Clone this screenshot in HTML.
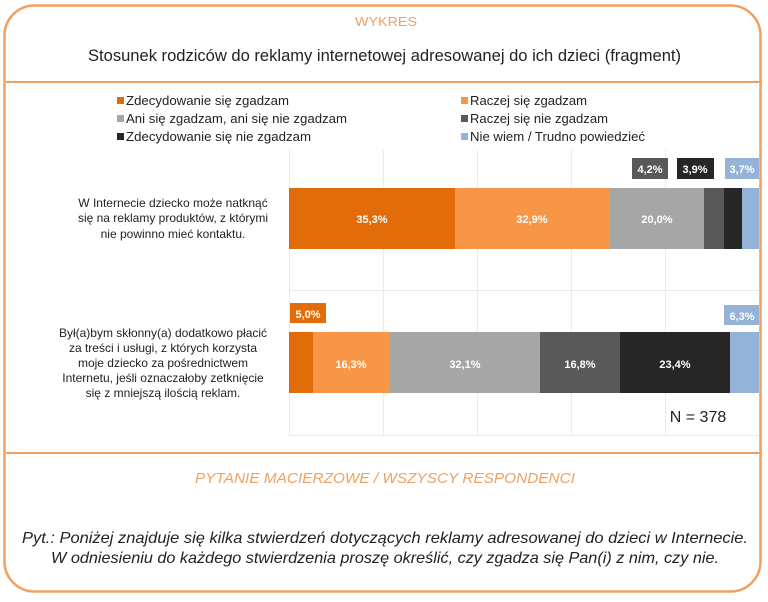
<!DOCTYPE html>
<html><head><meta charset="utf-8"><style>
html,body{margin:0;padding:0;background:#fff;}
svg{display:block;}
text{font-family:"Liberation Sans",sans-serif;}
</style></head><body>
<svg width="768" height="602" viewBox="0 0 768 602" xmlns="http://www.w3.org/2000/svg">
<rect x="4.5" y="5.5" width="756" height="586" rx="30" ry="30" fill="#fff" stroke="#f0a060" stroke-width="2.5"/>
<line x1="6" y1="82" x2="762" y2="82" stroke="#f0a060" stroke-width="2"/>
<line x1="6" y1="453" x2="762" y2="453" stroke="#f0a060" stroke-width="2"/>
<text x="386" y="26" text-anchor="middle" font-size="13" fill="#f0a060" textLength="62" lengthAdjust="spacingAndGlyphs">WYKRES</text>
<text x="88" y="61" font-size="17" fill="#222" textLength="593" lengthAdjust="spacingAndGlyphs">Stosunek rodziców do reklamy internetowej adresowanej do ich dzieci (fragment)</text>

<g font-size="13" fill="#222">
<rect x="117" y="97" width="7" height="7" fill="#e36c0a"/><text x="126" y="105" textLength="163" lengthAdjust="spacingAndGlyphs">Zdecydowanie się zgadzam</text>
<rect x="117" y="115" width="7" height="7" fill="#a6a6a6"/><text x="126" y="123" textLength="221" lengthAdjust="spacingAndGlyphs">Ani się zgadzam, ani się nie zgadzam</text>
<rect x="117" y="133" width="7" height="7" fill="#262626"/><text x="126" y="141" textLength="185" lengthAdjust="spacingAndGlyphs">Zdecydowanie się nie zgadzam</text>
<rect x="461" y="97" width="7" height="7" fill="#f79646"/><text x="470" y="105" textLength="117" lengthAdjust="spacingAndGlyphs">Raczej się zgadzam</text>
<rect x="461" y="115" width="7" height="7" fill="#595959"/><text x="470" y="123" textLength="138" lengthAdjust="spacingAndGlyphs">Raczej się nie zgadzam</text>
<rect x="461" y="133" width="7" height="7" fill="#95b3d7"/><text x="470" y="141" textLength="175" lengthAdjust="spacingAndGlyphs">Nie wiem / Trudno powiedzieć</text>
</g>

<g stroke="#ebebeb" stroke-width="1">
<line x1="289.5" y1="150" x2="289.5" y2="436"/>
<line x1="383.5" y1="150" x2="383.5" y2="436"/>
<line x1="477.5" y1="150" x2="477.5" y2="436"/>
<line x1="571.5" y1="150" x2="571.5" y2="436"/>
<line x1="665.5" y1="150" x2="665.5" y2="436"/>
<line x1="289" y1="290.5" x2="759" y2="290.5"/>
<line x1="289" y1="435.5" x2="759" y2="435.5"/>
</g>

<rect x="289" y="188" width="166" height="61" fill="#e36c0a"/>
<rect x="455" y="188" width="155" height="61" fill="#f79646"/>
<rect x="610" y="188" width="94" height="61" fill="#a6a6a6"/>
<rect x="704" y="188" width="20" height="61" fill="#595959"/>
<rect x="724" y="188" width="18" height="61" fill="#262626"/>
<rect x="742" y="188" width="17" height="61" fill="#95b3d7"/>

<rect x="289" y="332" width="24" height="61" fill="#e36c0a"/>
<rect x="313" y="332" width="76" height="61" fill="#f79646"/>
<rect x="389" y="332" width="151" height="61" fill="#a6a6a6"/>
<rect x="540" y="332" width="80" height="61" fill="#595959"/>
<rect x="620" y="332" width="110" height="61" fill="#262626"/>
<rect x="730" y="332" width="29" height="61" fill="#95b3d7"/>

<rect x="632" y="158" width="36" height="21" fill="#595959"/>
<rect x="677" y="158" width="37" height="21" fill="#262626"/>
<rect x="725" y="158" width="34" height="21" fill="#95b3d7"/>
<rect x="290" y="303" width="36" height="20" fill="#e36c0a"/>
<rect x="724" y="305" width="35" height="20" fill="#95b3d7"/>

<g font-size="11" font-weight="bold" fill="#fff" text-anchor="middle">
<text x="372" y="223">35,3%</text>
<text x="532" y="223">32,9%</text>
<text x="657" y="223">20,0%</text>
<text x="650" y="173">4,2%</text>
<text x="695" y="173">3,9%</text>
<text x="742" y="173">3,7%</text>
<text x="308" y="318">5,0%</text>
<text x="742" y="320">6,3%</text>
<text x="351" y="368">16,3%</text>
<text x="465" y="368">32,1%</text>
<text x="580" y="368">16,8%</text>
<text x="675" y="368">23,4%</text>
</g>

<text x="698" y="422" font-size="16" fill="#222" text-anchor="middle">N = 378</text>

<g font-size="12" fill="#222" text-anchor="middle">
<text x="173" y="207">W Internecie dziecko może natknąć</text>
<text x="173" y="222">się na reklamy produktów, z którymi</text>
<text x="173" y="238">nie powinno mieć kontaktu.</text>
<text x="163" y="337">Był(a)bym skłonny(a) dodatkowo płacić</text>
<text x="163" y="352">za treści i usługi, z których korzysta</text>
<text x="163" y="367">moje dziecko za pośrednictwem</text>
<text x="163" y="382">Internetu, jeśli oznaczałoby zetknięcie</text>
<text x="163" y="397">się z mniejszą ilością reklam.</text>
</g>

<text x="385" y="483" font-size="15" font-style="italic" fill="#f0a060" text-anchor="middle" textLength="380" lengthAdjust="spacingAndGlyphs">PYTANIE MACIERZOWE / WSZYSCY RESPONDENCI</text>
<text x="385" y="543" font-size="16" font-style="italic" fill="#222" text-anchor="middle" textLength="726" lengthAdjust="spacingAndGlyphs">Pyt.: Poniżej znajduje się kilka stwierdzeń dotyczących reklamy adresowanej do dzieci w Internecie.</text>
<text x="385" y="563" font-size="16" font-style="italic" fill="#222" text-anchor="middle" textLength="668" lengthAdjust="spacingAndGlyphs">W odniesieniu do każdego stwierdzenia proszę określić, czy zgadza się Pan(i) z nim, czy nie.</text>
</svg>
</body></html>
